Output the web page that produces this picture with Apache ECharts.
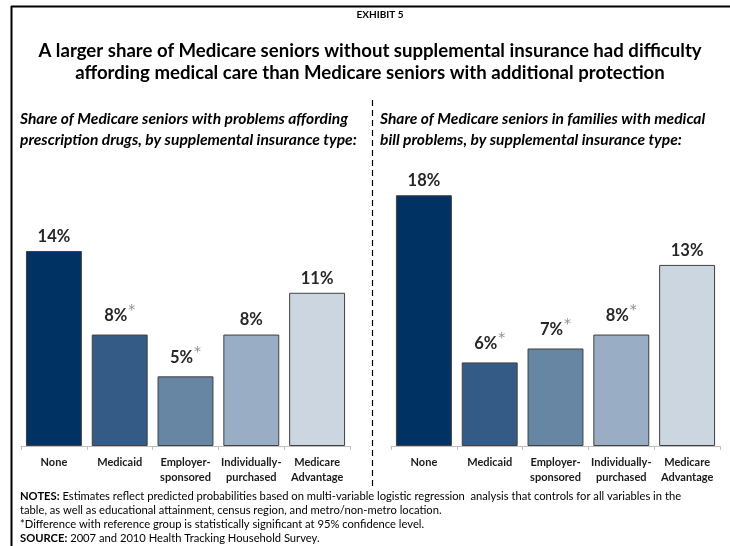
<!DOCTYPE html>
<html>
<head>
<meta charset="utf-8">
<script src="https://cdn.jsdelivr.net/npm/echarts@6/dist/echarts.min.js"></script>
<style>html,body{margin:0;padding:0;background:#fff}#c{width:730px;height:546px}</style>
</head>
<body>
<div id="c"></div>
<script>
const categories = ['None', 'Medicaid', 'Employer-\nsponsored', 'Individually-\npurchased', 'Medicare\nAdvantage'];
const drugValues = [14, 8, 5, 8, 11];
const drugSignificant = [false, true, true, false, false];
const billValues = [18, 6, 7, 8, 13];
const billSignificant = [false, true, true, true, false];
const barColors = ['#003263', '#335B85', '#6686A4', '#99AEC4', '#CCD6E0'];

const FONT = 'Lato, "Open Sans", sans-serif';
const chart = echarts.init(document.getElementById('c'), null, {renderer: 'canvas'});

function seriesData(vals) {
  return vals.map((v, i) => ({value: v, itemStyle: {color: barColors[i]}}));
}
function labelFmt(sig) {
  return p => '{v|' + p.value + '%}' + (sig[p.dataIndex] ? '{s|*}' : '');
}
const labelRich = {
  v: {fontFamily: FONT, fontWeight: 'bold', fontSize: 16.5, color: '#262626'},
  s: {fontFamily: '"DejaVu Sans", sans-serif', fontSize: 14, color: '#8c8c8c', padding: [0, 0, 11, 1]}
};

const gridTop = 446 - 20 * 13.93;
const xAxisCommon = {
  type: 'category',
  data: categories,
  axisLine: {lineStyle: {color: '#bfbfbf', width: 1}},
  axisTick: {show: true, length: 4, lineStyle: {color: '#bfbfbf'}},
  axisLabel: {fontFamily: FONT, fontWeight: 'bold', fontSize: 11, color: '#1a1a1a', margin: 9, lineHeight: 15, interval: 0}
};
const yAxisCommon = {type: 'value', min: 0, max: 20, show: false, splitLine: {show: false}};

const noteFont = '11.2px ' + FONT;
const noteBold = 'bold 11.2px ' + FONT;
const subFont = 'italic bold 15.6px ' + FONT;
const titleFont = 'bold 18.6px ' + FONT;

const option = {
  animation: false,
  grid: [
    {left: 21, width: 329, top: gridTop, bottom: 100},
    {left: 391, width: 329, top: gridTop, bottom: 100}
  ],
  xAxis: [
    Object.assign({gridIndex: 0}, xAxisCommon),
    Object.assign({gridIndex: 1}, xAxisCommon)
  ],
  yAxis: [
    Object.assign({gridIndex: 0}, yAxisCommon),
    Object.assign({gridIndex: 1}, yAxisCommon)
  ],
  series: [
    {
      type: 'bar', xAxisIndex: 0, yAxisIndex: 0,
      data: seriesData(drugValues),
      barCategoryGap: '15%',
      itemStyle: {borderColor: '#404040', borderWidth: 1},
      label: {show: true, position: 'top', distance: 6, formatter: labelFmt(drugSignificant), rich: labelRich}
    },
    {
      type: 'bar', xAxisIndex: 1, yAxisIndex: 1,
      data: seriesData(billValues),
      barCategoryGap: '15%',
      itemStyle: {borderColor: '#404040', borderWidth: 1},
      label: {show: true, position: 'top', distance: 6, formatter: labelFmt(billSignificant), rich: labelRich}
    }
  ],
  graphic: [
    {type: 'line', shape: {x1: 11.5, y1: 6, x2: 11.5, y2: 546}, style: {stroke: '#000', lineWidth: 2}},
    {type: 'line', shape: {x1: 11, y1: 6.5, x2: 730, y2: 6.5}, style: {stroke: '#000', lineWidth: 2}},
    {type: 'line', shape: {x1: 372.5, y1: 100, x2: 372.5, y2: 486}, style: {stroke: '#000', lineWidth: 1.2, lineDash: [6, 4]}},
    {type: 'text', x: 380, y: 15, style: {text: 'EXHIBIT 5', font: 'bold 10px ' + FONT, fill: '#000', align: 'center', verticalAlign: 'middle'}},
    {type: 'text', x: 370, y: 51, style: {text: 'A larger share of Medicare seniors without supplemental insurance had difficulty', font: titleFont, fill: '#000', align: 'center', verticalAlign: 'middle'}},
    {type: 'text', x: 370, y: 73, style: {text: 'affording medical care than Medicare seniors with additional protection', font: titleFont, fill: '#000', align: 'center', verticalAlign: 'middle'}},
    {type: 'text', x: 20, y: 119, style: {text: 'Share of Medicare seniors with problems affording', font: subFont, fill: '#000', align: 'left', verticalAlign: 'middle'}},
    {type: 'text', x: 20, y: 140, style: {text: 'prescription drugs, by supplemental insurance type:', font: subFont, fill: '#000', align: 'left', verticalAlign: 'middle'}},
    {type: 'text', x: 380, y: 119, style: {text: 'Share of Medicare seniors in families with medical', font: subFont, fill: '#000', align: 'left', verticalAlign: 'middle'}},
    {type: 'text', x: 380, y: 140, style: {text: 'bill problems, by supplemental insurance type:', font: subFont, fill: '#000', align: 'left', verticalAlign: 'middle'}},
    {type: 'text', x: 20, y: 496, style: {
      text: '{b|NOTES:} Estimates reflect predicted probabilities based on multi-variable logistic regression  analysis that controls for all variables in the',
      rich: {b: {font: noteBold, fill: '#000'}}, font: noteFont, fill: '#000', verticalAlign: 'middle'}},
    {type: 'text', x: 20, y: 510, style: {text: 'table, as well as educational attainment, census region, and metro/non-metro location.', font: noteFont, fill: '#000', verticalAlign: 'middle'}},
    {type: 'text', x: 20, y: 524, style: {text: '*Difference with reference group is statistically significant at 95% confidence level.', font: noteFont, fill: '#000', verticalAlign: 'middle'}},
    {type: 'text', x: 20, y: 538, style: {
      text: '{b|SOURCE:} 2007 and 2010 Health Tracking Household Survey.',
      rich: {b: {font: noteBold, fill: '#000'}}, font: noteFont, fill: '#000', verticalAlign: 'middle'}}
  ]
};
chart.setOption(option);
</script>
</body>
</html>
